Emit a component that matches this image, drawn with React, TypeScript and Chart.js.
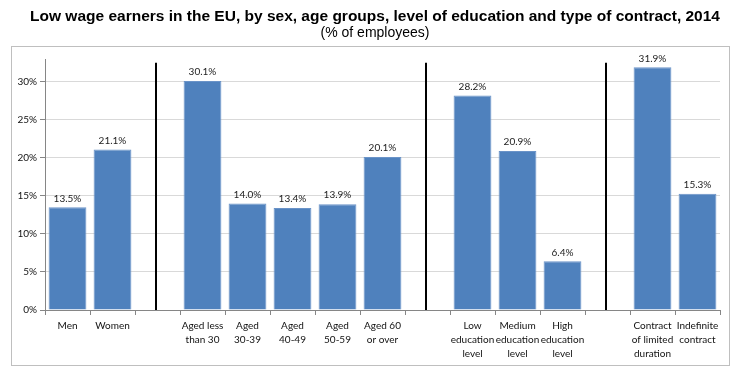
import React, { useEffect, useRef } from 'react';
import { Chart, registerables } from 'chart.js';

Chart.register(...registerables);

const TITLE = 'Low wage earners in the EU, by sex, age groups, level of education and type of contract, 2014';
const SUBTITLE = '(% of employees)';

const categories: (string | string[])[] = [
  'Men',
  'Women',
  '',
  ['Aged less', 'than 30'],
  ['Aged', '30-39'],
  ['Aged', '40-49'],
  ['Aged', '50-59'],
  ['Aged 60', 'or over'],
  '',
  ['Low', 'education', 'level'],
  ['Medium', 'education', 'level'],
  ['High', 'education', 'level'],
  '',
  ['Contract', 'of limited', 'duration'],
  ['Indefinite', 'contract'],
];

const values: (number | null)[] = [13.5, 21.1, null, 30.1, 14.0, 13.4, 13.9, 20.1, null, 28.2, 20.9, 6.4, null, 31.9, 15.3];

const separatorIndices = [2, 8, 12];
const separatorTop = 32.5;
const yMax = 33;
const yStep = 5;

const FONT = 'Lato, "Liberation Sans", Arial, sans-serif';
const TITLE_FONT = '"Liberation Sans", Arial, Helvetica, sans-serif';

export default function App() {
  const ref = useRef<HTMLCanvasElement | null>(null);

  useEffect(() => {
    if (!ref.current) return;

    const framePlugin = {
      id: 'frame',
      beforeDraw(chart: any) {
        const ctx = chart.ctx;
        ctx.save();
        ctx.fillStyle = '#ffffff';
        ctx.fillRect(0, 0, chart.width, chart.height);
        ctx.strokeStyle = '#BFBFBF';
        ctx.lineWidth = 1;
        ctx.strokeRect(11.5, 46.5, 718, 319);
        ctx.fillStyle = '#000000';
        ctx.textAlign = 'center';
        ctx.textBaseline = 'middle';
        ctx.font = `bold 15.5px ${TITLE_FONT}`;
        ctx.fillText(TITLE, chart.width / 2, 17);
        ctx.font = `14px ${TITLE_FONT}`;
        ctx.fillText(SUBTITLE, chart.width / 2, 33.5);
        ctx.restore();
      },
    };

    const separatorPlugin = {
      id: 'separators',
      afterDatasetsDraw(chart: any) {
        const ctx = chart.ctx;
        const xs = chart.scales.x;
        const ys = chart.scales.y;
        ctx.save();
        ctx.strokeStyle = '#000000';
        ctx.lineWidth = 2;
        separatorIndices.forEach((i) => {
          const x = Math.round(xs.getPixelForValue(i)) - 2;
          ctx.beginPath();
          ctx.moveTo(x, ys.getPixelForValue(separatorTop));
          ctx.lineTo(x, ys.getPixelForValue(0));
          ctx.stroke();
        });
        ctx.restore();
      },
    };

    const labelPlugin = {
      id: 'valueLabels',
      afterDatasetsDraw(chart: any) {
        const ctx = chart.ctx;
        const meta = chart.getDatasetMeta(0);
        ctx.save();
        ctx.font = `10px ${FONT}`;
        ctx.fillStyle = '#222222';
        ctx.textAlign = 'center';
        ctx.textBaseline = 'bottom';
        meta.data.forEach((bar: any, i: number) => {
          const v = values[i];
          if (v == null) return;
          ctx.fillText(v.toFixed(1) + '%', bar.x, bar.y - 4);
        });
        ctx.restore();
      },
    };

    const chart = new Chart(ref.current, {
      type: 'bar',
      data: {
        labels: categories,
        datasets: [
          {
            data: values,
            backgroundColor: '#4F81BD',
            borderColor: '#6A93C8',
            borderWidth: 1,
            barPercentage: 0.84,
            categoryPercentage: 1.0,
          },
        ],
      },
      options: {
        animation: false,
        responsive: false,
        maintainAspectRatio: false,
        layout: { padding: { left: 0, right: 30, top: 59, bottom: 0 } },
        plugins: {
          legend: { display: false },
          tooltip: { enabled: false },
          title: { display: false },
        },
        scales: {
          x: {
            grid: {
              offset: true,
              drawOnChartArea: false,
              drawTicks: true,
              tickLength: 5,
              tickColor: '#868686',
              color: '#868686',
            },
            border: { display: true, color: '#868686', width: 1 },
            ticks: {
              color: '#111111',
              font: { family: FONT, size: 10, lineHeight: 1.4 },
              maxRotation: 0,
              minRotation: 0,
              autoSkip: false,
              padding: 4,
            },
            afterFit(scale: any) {
              scale.height = 68;
            },
          },
          y: {
            min: 0,
            max: yMax,
            grid: {
              color: '#D9D9D9',
              tickColor: '#868686',
              tickLength: 5,
            },
            border: { display: true, color: '#868686', width: 1 },
            ticks: {
              stepSize: yStep,
              includeBounds: false,
              color: '#111111',
              font: { family: FONT, size: 10 },
              padding: 3,
              callback: (v: any) => v + '%',
            },
            afterFit(scale: any) {
              scale.width = 45;
            },
          },
        },
      },
      plugins: [framePlugin, separatorPlugin, labelPlugin],
    } as any);

    return () => chart.destroy();
  }, []);

  return (
    <div style={{ position: 'absolute', left: 0, top: 0, width: 750, height: 378 }}>
      <canvas ref={ref} width={750} height={378} style={{ width: 750, height: 378, display: 'block' }} />
    </div>
  );
}
